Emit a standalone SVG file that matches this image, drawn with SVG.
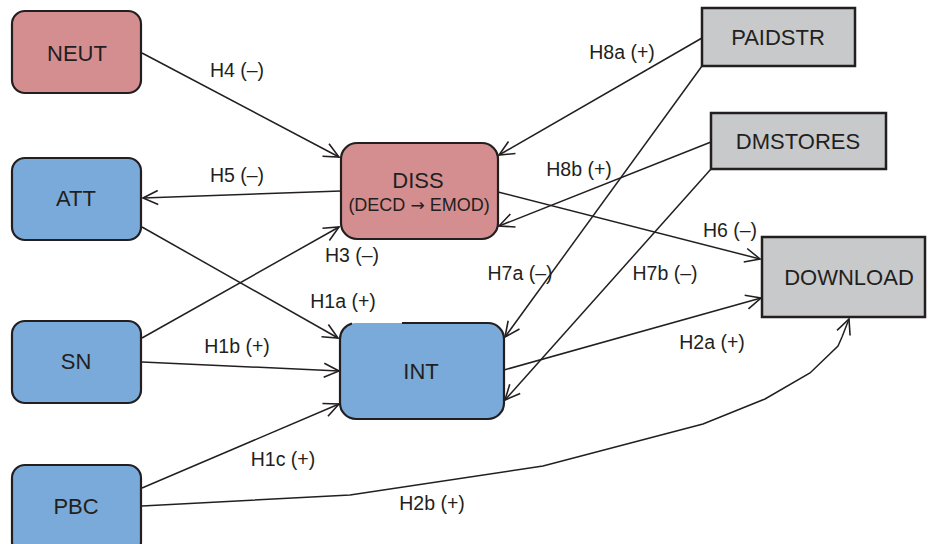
<svg xmlns="http://www.w3.org/2000/svg" width="928" height="544" viewBox="0 0 928 544">
<style>
.red{fill:#d58e90;stroke:#231f20;stroke-width:2.2}
.blue{fill:#7aaad9;stroke:#231f20;stroke-width:2.2}
.gray{fill:#c8c9cb;stroke:#231f20;stroke-width:2.5}
.nt{font-family:"Liberation Sans",Arial,sans-serif;font-size:22px;fill:#231f20;text-anchor:middle}
.sub{font-family:"Liberation Sans",Arial,sans-serif;font-size:18px;fill:#231f20;text-anchor:middle}
.ar{font-family:"DejaVu Sans",sans-serif;font-size:17px}
.lb{font-family:"Liberation Sans",Arial,sans-serif;font-size:19.5px;fill:#231f20;text-anchor:middle}
.c{fill:none;stroke:#231f20;stroke-width:1.5;marker-end:url(#arr)}
</style>
<defs>
<marker id="arr" markerUnits="userSpaceOnUse" markerWidth="20" markerHeight="20" refX="0" refY="0" orient="auto" overflow="visible">
<path d="M-15,-7 L0,0 L-15,7" fill="none" stroke="#231f20" stroke-width="1.6"/>
</marker>
</defs>
<rect width="928" height="544" fill="#fff"/>
<g id="connectors">
<line class="c" x1="142" y1="53" x2="339" y2="157"/>
<line class="c" x1="341" y1="191" x2="143" y2="198"/>
<line class="c" x1="142" y1="227" x2="338" y2="338"/>
<line class="c" x1="142" y1="338" x2="339" y2="227"/>
<line class="c" x1="142" y1="362" x2="339" y2="371"/>
<line class="c" x1="142" y1="488" x2="339" y2="404"/>
<polyline class="c" points="142,506 350,495 543,466 703,424 765,399 810,373 838,346 842,337 849,319"/>
<line class="c" x1="498" y1="192" x2="760" y2="259"/>
<line class="c" x1="504" y1="370" x2="761" y2="298"/>
<line class="c" x1="702" y1="38" x2="499" y2="155"/>
<line class="c" x1="711" y1="142" x2="499" y2="226"/>
<line class="c" x1="702" y1="66" x2="505" y2="337"/>
<line class="c" x1="711" y1="169" x2="505" y2="400"/>
</g>
<g id="labels">
<text class="lb" x="237" y="77">H4 (–)</text>
<text class="lb" x="237" y="182">H5 (–)</text>
<text class="lb" x="352" y="262">H3 (–)</text>
<text class="lb" x="343" y="308">H1a (+)</text>
<text class="lb" x="237" y="353">H1b (+)</text>
<text class="lb" x="283" y="466">H1c (+)</text>
<text class="lb" x="432" y="510">H2b (+)</text>
<text class="lb" x="712" y="349">H2a (+)</text>
<text class="lb" x="622" y="59">H8a (+)</text>
<text class="lb" x="579" y="176">H8b (+)</text>
<text class="lb" x="730" y="237">H6 (–)</text>
<text class="lb" x="520" y="280">H7a (–)</text>
<text class="lb" x="665" y="280">H7b (–)</text>
</g>
<g id="NEUT"><rect class="red" x="12" y="11" width="129" height="82" rx="13"/><text class="nt" x="77" y="61">NEUT</text></g>
<g id="ATT"><rect class="blue" x="12" y="158" width="129" height="82" rx="13"/><text class="nt" x="76" y="206">ATT</text></g>
<g id="SN"><rect class="blue" x="12" y="321" width="129" height="82" rx="13"/><text class="nt" x="76" y="369">SN</text></g>
<g id="PBC"><rect class="blue" x="12" y="465" width="129" height="90" rx="13"/><text class="nt" x="76" y="514">PBC</text></g>
<g id="DISS"><rect class="red" x="341" y="143" width="157" height="96" rx="16"/><text class="nt" x="418" y="188">DISS</text><text class="sub" x="419" y="211">(DECD <tspan class="ar">→</tspan> EMOD)</text></g>
<g id="INT"><rect x="340" y="323" width="164" height="96" rx="16" fill="#7aaad9"/><path d="M402,323 H488 A16,16 0 0 1 504,339 V403 A16,16 0 0 1 488,419 H356 A16,16 0 0 1 340,403 V339 A16,16 0 0 1 352,323.5" fill="none" stroke="#231f20" stroke-width="2.2"/><text class="nt" x="421" y="379">INT</text></g>
<g id="PAIDSTR"><rect class="gray" x="702" y="8" width="153" height="58"/><text class="nt" x="778" y="45">PAIDSTR</text></g>
<g id="DMSTORES"><rect class="gray" x="711" y="113" width="175" height="56"/><text class="nt" x="798" y="149">DMSTORES</text></g>
<g id="DOWNLOAD"><rect class="gray" x="762" y="237" width="163" height="80"/><text class="nt" x="849" y="285">DOWNLOAD</text></g>
</svg>
